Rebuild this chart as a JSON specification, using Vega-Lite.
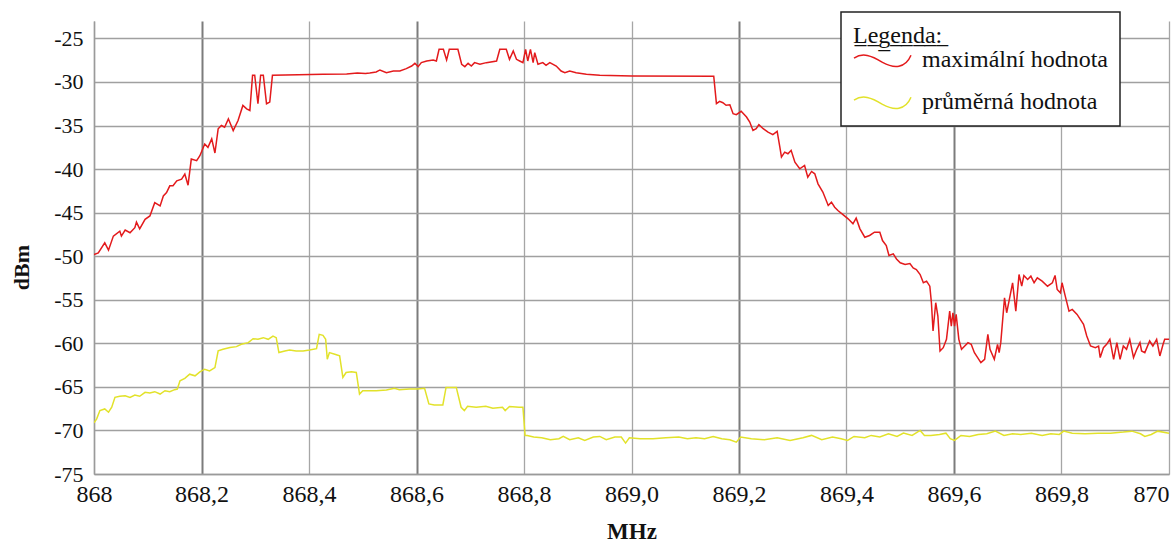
{
  "$schema": "https://vega.github.io/schema/vega-lite/v6.json",
  "width": 1075,
  "height": 453,
  "autosize": {"type": "none"},
  "padding": {"left": 94, "top": 21, "right": 2, "bottom": 68},
  "background": "white",
  "config": {
    "view": {"stroke": null},
    "font": "Liberation Serif",
    "legend": {"strokeWidth": 1.5}
  },
  "datasets": {
    "spektrum": [
      {"s": "max", "f": 868.000, "v": -49.81}, {"s": "max", "f": 868.008, "v": -49.62}, {"s": "max", "f": 868.020, "v": -48.46},
      {"s": "max", "f": 868.027, "v": -49.31}, {"s": "max", "f": 868.036, "v": -47.69}, {"s": "max", "f": 868.048, "v": -47.12},
      {"s": "max", "f": 868.051, "v": -47.69}, {"s": "max", "f": 868.058, "v": -47.0}, {"s": "max", "f": 868.067, "v": -47.31},
      {"s": "max", "f": 868.076, "v": -46.73}, {"s": "max", "f": 868.079, "v": -46.08}, {"s": "max", "f": 868.085, "v": -46.85},
      {"s": "max", "f": 868.095, "v": -45.77}, {"s": "max", "f": 868.104, "v": -45.38}, {"s": "max", "f": 868.113, "v": -43.85},
      {"s": "max", "f": 868.123, "v": -44.23}, {"s": "max", "f": 868.129, "v": -43.08}, {"s": "max", "f": 868.135, "v": -42.69},
      {"s": "max", "f": 868.141, "v": -41.92}, {"s": "max", "f": 868.147, "v": -41.92}, {"s": "max", "f": 868.154, "v": -41.35},
      {"s": "max", "f": 868.163, "v": -41.15}, {"s": "max", "f": 868.169, "v": -40.58}, {"s": "max", "f": 868.175, "v": -41.85},
      {"s": "max", "f": 868.181, "v": -38.85}, {"s": "max", "f": 868.191, "v": -39.04}, {"s": "max", "f": 868.197, "v": -38.46},
      {"s": "max", "f": 868.206, "v": -37.12}, {"s": "max", "f": 868.212, "v": -37.5}, {"s": "max", "f": 868.219, "v": -36.54},
      {"s": "max", "f": 868.225, "v": -38.15}, {"s": "max", "f": 868.231, "v": -35.38}, {"s": "max", "f": 868.237, "v": -35.0},
      {"s": "max", "f": 868.243, "v": -35.19}, {"s": "max", "f": 868.250, "v": -34.23}, {"s": "max", "f": 868.259, "v": -35.58},
      {"s": "max", "f": 868.268, "v": -34.42}, {"s": "max", "f": 868.277, "v": -32.69}, {"s": "max", "f": 868.284, "v": -33.08},
      {"s": "max", "f": 868.290, "v": -33.27}, {"s": "max", "f": 868.295, "v": -29.23}, {"s": "max", "f": 868.299, "v": -29.23},
      {"s": "max", "f": 868.305, "v": -32.5}, {"s": "max", "f": 868.310, "v": -29.23}, {"s": "max", "f": 868.315, "v": -29.23},
      {"s": "max", "f": 868.321, "v": -32.5}, {"s": "max", "f": 868.327, "v": -32.31}, {"s": "max", "f": 868.332, "v": -29.23},
      {"s": "max", "f": 868.380, "v": -29.18}, {"s": "max", "f": 868.426, "v": -29.12}, {"s": "max", "f": 868.470, "v": -29.08},
      {"s": "max", "f": 868.490, "v": -28.98}, {"s": "max", "f": 868.505, "v": -29.02}, {"s": "max", "f": 868.513, "v": -28.96},
      {"s": "max", "f": 868.525, "v": -28.85}, {"s": "max", "f": 868.532, "v": -28.62}, {"s": "max", "f": 868.544, "v": -28.93},
      {"s": "max", "f": 868.557, "v": -28.74}, {"s": "max", "f": 868.569, "v": -28.74}, {"s": "max", "f": 868.581, "v": -28.47},
      {"s": "max", "f": 868.591, "v": -28.17}, {"s": "max", "f": 868.597, "v": -27.86}, {"s": "max", "f": 868.603, "v": -28.24},
      {"s": "max", "f": 868.609, "v": -27.78}, {"s": "max", "f": 868.619, "v": -27.59}, {"s": "max", "f": 868.631, "v": -27.48},
      {"s": "max", "f": 868.637, "v": -27.59}, {"s": "max", "f": 868.642, "v": -26.25}, {"s": "max", "f": 868.650, "v": -26.25},
      {"s": "max", "f": 868.656, "v": -27.48}, {"s": "max", "f": 868.661, "v": -26.25}, {"s": "max", "f": 868.677, "v": -26.25},
      {"s": "max", "f": 868.684, "v": -27.97}, {"s": "max", "f": 868.690, "v": -28.24}, {"s": "max", "f": 868.696, "v": -27.86},
      {"s": "max", "f": 868.702, "v": -28.17}, {"s": "max", "f": 868.708, "v": -27.78}, {"s": "max", "f": 868.718, "v": -27.97},
      {"s": "max", "f": 868.730, "v": -27.78}, {"s": "max", "f": 868.749, "v": -27.59}, {"s": "max", "f": 868.755, "v": -26.25},
      {"s": "max", "f": 868.767, "v": -26.25}, {"s": "max", "f": 868.773, "v": -27.4}, {"s": "max", "f": 868.780, "v": -26.44},
      {"s": "max", "f": 868.786, "v": -27.4}, {"s": "max", "f": 868.792, "v": -27.59}, {"s": "max", "f": 868.798, "v": -27.78},
      {"s": "max", "f": 868.803, "v": -26.25}, {"s": "max", "f": 868.807, "v": -27.59}, {"s": "max", "f": 868.812, "v": -26.25},
      {"s": "max", "f": 868.817, "v": -27.78}, {"s": "max", "f": 868.820, "v": -26.64}, {"s": "max", "f": 868.826, "v": -27.97},
      {"s": "max", "f": 868.835, "v": -27.78}, {"s": "max", "f": 868.841, "v": -28.09}, {"s": "max", "f": 868.848, "v": -27.78},
      {"s": "max", "f": 868.860, "v": -28.17}, {"s": "max", "f": 868.869, "v": -28.74}, {"s": "max", "f": 868.876, "v": -28.93},
      {"s": "max", "f": 868.885, "v": -28.74}, {"s": "max", "f": 868.897, "v": -28.93}, {"s": "max", "f": 868.916, "v": -29.12},
      {"s": "max", "f": 868.941, "v": -29.24}, {"s": "max", "f": 869.001, "v": -29.31}, {"s": "max", "f": 869.153, "v": -29.33},
      {"s": "max", "f": 869.158, "v": -32.49}, {"s": "max", "f": 869.164, "v": -32.22}, {"s": "max", "f": 869.170, "v": -32.38},
      {"s": "max", "f": 869.176, "v": -32.68}, {"s": "max", "f": 869.183, "v": -32.61}, {"s": "max", "f": 869.189, "v": -33.64},
      {"s": "max", "f": 869.195, "v": -33.75}, {"s": "max", "f": 869.204, "v": -33.37}, {"s": "max", "f": 869.214, "v": -34.02},
      {"s": "max", "f": 869.220, "v": -34.6}, {"s": "max", "f": 869.226, "v": -35.56}, {"s": "max", "f": 869.232, "v": -35.36},
      {"s": "max", "f": 869.237, "v": -34.9}, {"s": "max", "f": 869.245, "v": -35.36}, {"s": "max", "f": 869.254, "v": -35.75},
      {"s": "max", "f": 869.263, "v": -36.05}, {"s": "max", "f": 869.271, "v": -35.67}, {"s": "max", "f": 869.276, "v": -37.47},
      {"s": "max", "f": 869.279, "v": -38.62}, {"s": "max", "f": 869.285, "v": -38.05}, {"s": "max", "f": 869.291, "v": -38.24},
      {"s": "max", "f": 869.297, "v": -37.85}, {"s": "max", "f": 869.304, "v": -39.2}, {"s": "max", "f": 869.313, "v": -39.96},
      {"s": "max", "f": 869.322, "v": -39.58}, {"s": "max", "f": 869.328, "v": -40.92}, {"s": "max", "f": 869.335, "v": -40.27},
      {"s": "max", "f": 869.341, "v": -40.54}, {"s": "max", "f": 869.347, "v": -41.69}, {"s": "max", "f": 869.356, "v": -42.64},
      {"s": "max", "f": 869.366, "v": -44.18}, {"s": "max", "f": 869.372, "v": -43.79}, {"s": "max", "f": 869.378, "v": -44.37},
      {"s": "max", "f": 869.384, "v": -44.75}, {"s": "max", "f": 869.394, "v": -45.25}, {"s": "max", "f": 869.403, "v": -45.71},
      {"s": "max", "f": 869.412, "v": -46.28}, {"s": "max", "f": 869.418, "v": -45.63}, {"s": "max", "f": 869.425, "v": -46.86},
      {"s": "max", "f": 869.434, "v": -47.82}, {"s": "max", "f": 869.443, "v": -47.62}, {"s": "max", "f": 869.452, "v": -47.24},
      {"s": "max", "f": 869.462, "v": -47.24}, {"s": "max", "f": 869.467, "v": -48.2}, {"s": "max", "f": 869.474, "v": -48.77},
      {"s": "max", "f": 869.479, "v": -49.92}, {"s": "max", "f": 869.487, "v": -49.73}, {"s": "max", "f": 869.493, "v": -50.31},
      {"s": "max", "f": 869.500, "v": -50.76}, {"s": "max", "f": 869.509, "v": -50.95}, {"s": "max", "f": 869.518, "v": -50.84},
      {"s": "max", "f": 869.524, "v": -51.34}, {"s": "max", "f": 869.530, "v": -51.53}, {"s": "max", "f": 869.537, "v": -52.1},
      {"s": "max", "f": 869.543, "v": -53.05}, {"s": "max", "f": 869.549, "v": -52.86}, {"s": "max", "f": 869.555, "v": -53.44},
      {"s": "max", "f": 869.558, "v": -55.34}, {"s": "max", "f": 869.561, "v": -58.59}, {"s": "max", "f": 869.566, "v": -55.34},
      {"s": "max", "f": 869.570, "v": -56.87}, {"s": "max", "f": 869.574, "v": -60.88}, {"s": "max", "f": 869.580, "v": -60.5},
      {"s": "max", "f": 869.586, "v": -59.54}, {"s": "max", "f": 869.592, "v": -56.3}, {"s": "max", "f": 869.595, "v": -58.02},
      {"s": "max", "f": 869.598, "v": -56.49}, {"s": "max", "f": 869.601, "v": -58.02}, {"s": "max", "f": 869.604, "v": -56.68},
      {"s": "max", "f": 869.609, "v": -59.54}, {"s": "max", "f": 869.614, "v": -60.69}, {"s": "max", "f": 869.620, "v": -60.31},
      {"s": "max", "f": 869.626, "v": -59.92}, {"s": "max", "f": 869.632, "v": -60.11}, {"s": "max", "f": 869.638, "v": -61.07},
      {"s": "max", "f": 869.644, "v": -61.64}, {"s": "max", "f": 869.650, "v": -62.21}, {"s": "max", "f": 869.657, "v": -61.83},
      {"s": "max", "f": 869.663, "v": -58.97}, {"s": "max", "f": 869.667, "v": -60.69}, {"s": "max", "f": 869.675, "v": -61.83},
      {"s": "max", "f": 869.681, "v": -60.11}, {"s": "max", "f": 869.684, "v": -61.07}, {"s": "max", "f": 869.687, "v": -59.92},
      {"s": "max", "f": 869.694, "v": -54.77}, {"s": "max", "f": 869.698, "v": -56.49}, {"s": "max", "f": 869.703, "v": -54.96},
      {"s": "max", "f": 869.709, "v": -53.05}, {"s": "max", "f": 869.715, "v": -56.3}, {"s": "max", "f": 869.721, "v": -52.1},
      {"s": "max", "f": 869.726, "v": -53.44}, {"s": "max", "f": 869.730, "v": -52.21}, {"s": "max", "f": 869.737, "v": -52.67},
      {"s": "max", "f": 869.743, "v": -52.29}, {"s": "max", "f": 869.749, "v": -53.05}, {"s": "max", "f": 869.755, "v": -52.48},
      {"s": "max", "f": 869.764, "v": -52.86}, {"s": "max", "f": 869.774, "v": -53.44}, {"s": "max", "f": 869.783, "v": -53.05},
      {"s": "max", "f": 869.788, "v": -52.21}, {"s": "max", "f": 869.792, "v": -53.82}, {"s": "max", "f": 869.798, "v": -54.2},
      {"s": "max", "f": 869.801, "v": -53.05}, {"s": "max", "f": 869.807, "v": -54.58}, {"s": "max", "f": 869.814, "v": -56.3},
      {"s": "max", "f": 869.820, "v": -56.11}, {"s": "max", "f": 869.829, "v": -56.68}, {"s": "max", "f": 869.835, "v": -57.25},
      {"s": "max", "f": 869.841, "v": -57.82}, {"s": "max", "f": 869.847, "v": -59.16}, {"s": "max", "f": 869.854, "v": -60.31},
      {"s": "max", "f": 869.863, "v": -60.5}, {"s": "max", "f": 869.869, "v": -60.31}, {"s": "max", "f": 869.872, "v": -61.64},
      {"s": "max", "f": 869.878, "v": -60.5}, {"s": "max", "f": 869.884, "v": -60.11}, {"s": "max", "f": 869.890, "v": -59.54},
      {"s": "max", "f": 869.897, "v": -61.83}, {"s": "max", "f": 869.903, "v": -59.92}, {"s": "max", "f": 869.909, "v": -61.83},
      {"s": "max", "f": 869.915, "v": -60.31}, {"s": "max", "f": 869.921, "v": -60.69}, {"s": "max", "f": 869.927, "v": -59.54},
      {"s": "max", "f": 869.934, "v": -61.64}, {"s": "max", "f": 869.940, "v": -60.69}, {"s": "max", "f": 869.946, "v": -59.92},
      {"s": "max", "f": 869.949, "v": -60.88}, {"s": "max", "f": 869.955, "v": -61.07}, {"s": "max", "f": 869.964, "v": -59.73},
      {"s": "max", "f": 869.970, "v": -60.31}, {"s": "max", "f": 869.977, "v": -59.54}, {"s": "max", "f": 869.983, "v": -61.45},
      {"s": "max", "f": 869.989, "v": -60.11}, {"s": "max", "f": 869.992, "v": -59.54}, {"s": "max", "f": 870.000, "v": -59.54},

      {"s": "prum", "f": 868.000, "v": -69.13}, {"s": "prum", "f": 868.005, "v": -68.67}, {"s": "prum", "f": 868.011, "v": -67.72},
      {"s": "prum", "f": 868.020, "v": -67.53}, {"s": "prum", "f": 868.027, "v": -67.91}, {"s": "prum", "f": 868.033, "v": -67.34},
      {"s": "prum", "f": 868.039, "v": -66.2}, {"s": "prum", "f": 868.048, "v": -66.08}, {"s": "prum", "f": 868.058, "v": -66.01},
      {"s": "prum", "f": 868.067, "v": -66.2}, {"s": "prum", "f": 868.076, "v": -65.93}, {"s": "prum", "f": 868.085, "v": -66.08},
      {"s": "prum", "f": 868.095, "v": -65.63}, {"s": "prum", "f": 868.104, "v": -65.7}, {"s": "prum", "f": 868.113, "v": -65.55},
      {"s": "prum", "f": 868.123, "v": -65.82}, {"s": "prum", "f": 868.132, "v": -65.44}, {"s": "prum", "f": 868.141, "v": -65.55},
      {"s": "prum", "f": 868.150, "v": -65.32}, {"s": "prum", "f": 868.155, "v": -65.25}, {"s": "prum", "f": 868.160, "v": -64.3},
      {"s": "prum", "f": 868.169, "v": -64.03}, {"s": "prum", "f": 868.178, "v": -63.54}, {"s": "prum", "f": 868.188, "v": -63.73},
      {"s": "prum", "f": 868.197, "v": -63.27}, {"s": "prum", "f": 868.206, "v": -62.97}, {"s": "prum", "f": 868.215, "v": -63.16},
      {"s": "prum", "f": 868.225, "v": -62.78}, {"s": "prum", "f": 868.231, "v": -60.87}, {"s": "prum", "f": 868.240, "v": -60.68},
      {"s": "prum", "f": 868.253, "v": -60.49}, {"s": "prum", "f": 868.265, "v": -60.38}, {"s": "prum", "f": 868.274, "v": -60.11},
      {"s": "prum", "f": 868.287, "v": -59.92}, {"s": "prum", "f": 868.296, "v": -59.47}, {"s": "prum", "f": 868.305, "v": -59.54},
      {"s": "prum", "f": 868.315, "v": -59.35}, {"s": "prum", "f": 868.324, "v": -59.54}, {"s": "prum", "f": 868.333, "v": -59.16},
      {"s": "prum", "f": 868.339, "v": -59.35}, {"s": "prum", "f": 868.344, "v": -61.06}, {"s": "prum", "f": 868.355, "v": -60.87},
      {"s": "prum", "f": 868.364, "v": -60.76}, {"s": "prum", "f": 868.376, "v": -60.87}, {"s": "prum", "f": 868.389, "v": -60.87},
      {"s": "prum", "f": 868.401, "v": -60.76}, {"s": "prum", "f": 868.414, "v": -60.61}, {"s": "prum", "f": 868.419, "v": -58.97},
      {"s": "prum", "f": 868.426, "v": -59.09}, {"s": "prum", "f": 868.431, "v": -59.54}, {"s": "prum", "f": 868.434, "v": -61.83},
      {"s": "prum", "f": 868.438, "v": -61.06}, {"s": "prum", "f": 868.448, "v": -61.25}, {"s": "prum", "f": 868.457, "v": -61.44},
      {"s": "prum", "f": 868.463, "v": -63.92}, {"s": "prum", "f": 868.469, "v": -63.35}, {"s": "prum", "f": 868.479, "v": -63.27},
      {"s": "prum", "f": 868.488, "v": -63.35}, {"s": "prum", "f": 868.494, "v": -65.82}, {"s": "prum", "f": 868.500, "v": -65.44},
      {"s": "prum", "f": 868.510, "v": -65.44}, {"s": "prum", "f": 868.525, "v": -65.44}, {"s": "prum", "f": 868.544, "v": -65.36},
      {"s": "prum", "f": 868.559, "v": -65.17}, {"s": "prum", "f": 868.568, "v": -65.32}, {"s": "prum", "f": 868.587, "v": -65.25},
      {"s": "prum", "f": 868.602, "v": -65.25}, {"s": "prum", "f": 868.615, "v": -65.17}, {"s": "prum", "f": 868.623, "v": -66.96},
      {"s": "prum", "f": 868.633, "v": -67.07}, {"s": "prum", "f": 868.649, "v": -67.07}, {"s": "prum", "f": 868.655, "v": -65.06},
      {"s": "prum", "f": 868.664, "v": -65.06}, {"s": "prum", "f": 868.674, "v": -65.06}, {"s": "prum", "f": 868.683, "v": -67.34},
      {"s": "prum", "f": 868.689, "v": -67.72}, {"s": "prum", "f": 868.695, "v": -67.22}, {"s": "prum", "f": 868.711, "v": -67.34},
      {"s": "prum", "f": 868.729, "v": -67.22}, {"s": "prum", "f": 868.742, "v": -67.45}, {"s": "prum", "f": 868.760, "v": -67.34},
      {"s": "prum", "f": 868.765, "v": -67.72}, {"s": "prum", "f": 868.773, "v": -67.26}, {"s": "prum", "f": 868.791, "v": -67.34},
      {"s": "prum", "f": 868.798, "v": -67.34}, {"s": "prum", "f": 868.802, "v": -70.57}, {"s": "prum", "f": 868.806, "v": -70.57},
      {"s": "prum", "f": 868.818, "v": -70.76}, {"s": "prum", "f": 868.833, "v": -70.84}, {"s": "prum", "f": 868.849, "v": -71.07},
      {"s": "prum", "f": 868.865, "v": -70.95}, {"s": "prum", "f": 868.873, "v": -70.69}, {"s": "prum", "f": 868.885, "v": -71.07},
      {"s": "prum", "f": 868.901, "v": -70.84}, {"s": "prum", "f": 868.913, "v": -71.15}, {"s": "prum", "f": 868.929, "v": -70.76},
      {"s": "prum", "f": 868.941, "v": -70.69}, {"s": "prum", "f": 868.953, "v": -71.07}, {"s": "prum", "f": 868.969, "v": -70.76},
      {"s": "prum", "f": 868.981, "v": -70.76}, {"s": "prum", "f": 868.989, "v": -71.45}, {"s": "prum", "f": 868.996, "v": -70.84},
      {"s": "prum", "f": 869.016, "v": -70.95}, {"s": "prum", "f": 869.040, "v": -70.95}, {"s": "prum", "f": 869.064, "v": -70.84},
      {"s": "prum", "f": 869.088, "v": -70.76}, {"s": "prum", "f": 869.104, "v": -70.95}, {"s": "prum", "f": 869.120, "v": -70.84},
      {"s": "prum", "f": 869.136, "v": -70.95}, {"s": "prum", "f": 869.152, "v": -70.69}, {"s": "prum", "f": 869.168, "v": -70.95},
      {"s": "prum", "f": 869.183, "v": -71.07}, {"s": "prum", "f": 869.195, "v": -71.34}, {"s": "prum", "f": 869.203, "v": -70.76},
      {"s": "prum", "f": 869.223, "v": -70.95}, {"s": "prum", "f": 869.247, "v": -71.07}, {"s": "prum", "f": 869.271, "v": -70.84},
      {"s": "prum", "f": 869.295, "v": -71.15}, {"s": "prum", "f": 869.319, "v": -70.84}, {"s": "prum", "f": 869.335, "v": -70.57},
      {"s": "prum", "f": 869.354, "v": -71.07}, {"s": "prum", "f": 869.374, "v": -70.76}, {"s": "prum", "f": 869.390, "v": -70.95},
      {"s": "prum", "f": 869.402, "v": -71.15}, {"s": "prum", "f": 869.414, "v": -70.69}, {"s": "prum", "f": 869.434, "v": -70.84},
      {"s": "prum", "f": 869.446, "v": -70.57}, {"s": "prum", "f": 869.462, "v": -70.76}, {"s": "prum", "f": 869.478, "v": -70.38},
      {"s": "prum", "f": 869.494, "v": -70.69}, {"s": "prum", "f": 869.506, "v": -70.31}, {"s": "prum", "f": 869.522, "v": -70.57},
      {"s": "prum", "f": 869.537, "v": -70.0}, {"s": "prum", "f": 869.545, "v": -70.57}, {"s": "prum", "f": 869.557, "v": -70.57},
      {"s": "prum", "f": 869.573, "v": -70.46}, {"s": "prum", "f": 869.585, "v": -70.31}, {"s": "prum", "f": 869.593, "v": -70.95},
      {"s": "prum", "f": 869.601, "v": -71.15}, {"s": "prum", "f": 869.613, "v": -70.57}, {"s": "prum", "f": 869.629, "v": -70.69},
      {"s": "prum", "f": 869.645, "v": -70.46}, {"s": "prum", "f": 869.661, "v": -70.38}, {"s": "prum", "f": 869.677, "v": -70.08},
      {"s": "prum", "f": 869.693, "v": -70.57}, {"s": "prum", "f": 869.709, "v": -70.38}, {"s": "prum", "f": 869.724, "v": -70.46},
      {"s": "prum", "f": 869.744, "v": -70.31}, {"s": "prum", "f": 869.764, "v": -70.57}, {"s": "prum", "f": 869.780, "v": -70.38},
      {"s": "prum", "f": 869.796, "v": -70.46}, {"s": "prum", "f": 869.804, "v": -70.08}, {"s": "prum", "f": 869.820, "v": -70.31},
      {"s": "prum", "f": 869.844, "v": -70.38}, {"s": "prum", "f": 869.868, "v": -70.31}, {"s": "prum", "f": 869.891, "v": -70.31},
      {"s": "prum", "f": 869.915, "v": -70.19}, {"s": "prum", "f": 869.931, "v": -70.08}, {"s": "prum", "f": 869.947, "v": -70.38},
      {"s": "prum", "f": 869.955, "v": -70.69}, {"s": "prum", "f": 869.967, "v": -70.46}, {"s": "prum", "f": 869.979, "v": -70.08},
      {"s": "prum", "f": 870.000, "v": -70.31}
    ]
  },
  "data": {"name": "spektrum"},
  "mark": {"type": "line", "strokeWidth": 1.5, "clip": true},
  "encoding": {
    "x": {
      "field": "f",
      "type": "quantitative",
      "title": "MHz",
      "scale": {"domain": [868, 870], "nice": false, "zero": false},
      "axis": {
        "values": [868, 868.2, 868.4, 868.6, 868.8, 869.0, 869.2, 869.4, 869.6, 869.8, 870],
        "labelExpr": "datum.value == 868 || datum.value == 870 ? format(datum.value, 'd') : replace(format(datum.value, '.1f'), '.', ',')",
        "labelAlign": {"condition": {"test": "datum.value == 870", "value": "right"}, "value": "center"},
        "labelBound": false,
        "labelOverlap": false,
        "labelFont": "Liberation Serif",
        "labelFontSize": 24,
        "labelColor": "#111111",
        "labelPadding": 8,
        "ticks": false,
        "domainColor": "#9a9a9a",
        "domainWidth": 1.5,
        "grid": true,
        "gridColor": {"condition": {"test": "abs(datum.value - 868.2) < 0.01 || abs(datum.value - 868.6) < 0.01 || abs(datum.value - 869.2) < 0.01 || abs(datum.value - 869.6) < 0.01", "value": "#7c7c7c"}, "value": "#a6a6a6"},
        "gridWidth": {"condition": {"test": "abs(datum.value - 868.2) < 0.01 || abs(datum.value - 868.6) < 0.01 || abs(datum.value - 869.2) < 0.01 || abs(datum.value - 869.6) < 0.01", "value": 2}, "value": 1.3},
        "titleFont": "Liberation Serif",
        "titleFontSize": 23,
        "titleFontWeight": "bold",
        "titleColor": "#111111",
        "titleBaseline": "alphabetic",
        "titleY": 64
      }
    },
    "y": {
      "field": "v",
      "type": "quantitative",
      "title": "dBm",
      "scale": {"domain": [-75, -23], "nice": false, "zero": false},
      "axis": {
        "values": [-75, -70, -65, -60, -55, -50, -45, -40, -35, -30, -25],
        "labelExpr": "'-' + format(abs(datum.value), 'd')",
        "labelFont": "Liberation Serif",
        "labelFontSize": 22,
        "labelColor": "#111111",
        "labelPadding": 11,
        "ticks": false,
        "domainColor": "#9a9a9a",
        "domainWidth": 1.5,
        "grid": true,
        "gridColor": "#a0a0a0",
        "gridWidth": 1.3,
        "titleFont": "Liberation Serif",
        "titleFontSize": 22,
        "titleFontWeight": "bold",
        "titleColor": "#111111",
        "titleAngle": -90,
        "titleBaseline": "alphabetic",
        "titleX": -66,
        "titleY": 246
      }
    },
    "color": {
      "field": "s",
      "type": "nominal",
      "scale": {"domain": ["max", "prum"], "range": ["#e31a1c", "#e2e22a"]},
      "legend": {
        "orient": "none",
        "legendX": 747,
        "legendY": -9,
        "title": "L̲e̲g̲e̲n̲d̲a̲:̲",
        "titleFont": "Liberation Serif",
        "titleFontSize": 24,
        "titleFontWeight": "normal",
        "titleColor": "#111111",
        "titlePadding": -18,
        "labelExpr": "datum.label == 'max' ? 'maximální hodnota' : 'průměrná hodnota'",
        "labelFont": "Liberation Serif",
        "labelFontSize": 24,
        "labelColor": "#111111",
        "labelOffset": 10,
        "labelLimit": 400,
        "symbolType": "M-1,-0.05C-0.7,-0.25 -0.4,-0.15 0,0.1C0.4,0.32 0.8,0.32 1,-0.15",
        "symbolSize": 3249,
        "symbolStrokeWidth": 1.5,
        "symbolFillColor": "transparent",
        "rowPadding": -16,
        "padding": 12,
        "fillColor": "white",
        "strokeColor": "#222222"
      }
    }
  }
}
